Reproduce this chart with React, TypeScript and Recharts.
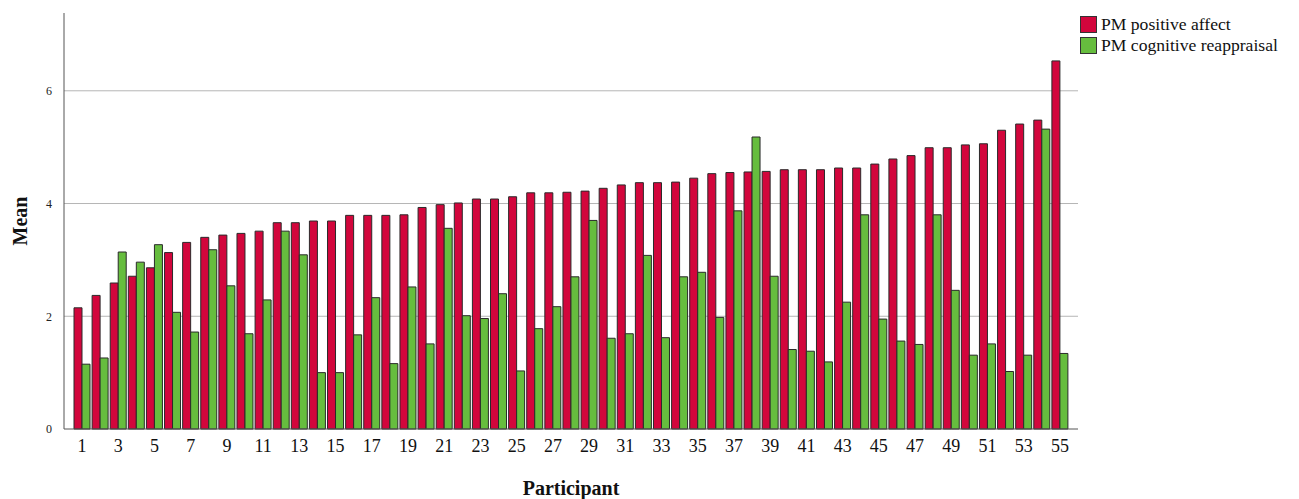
import React from "react";
import { BarChart, Bar, XAxis, YAxis, CartesianGrid, Label } from "recharts";

const participants = Array.from({ length: 55 }, (_, i) => String(i + 1));

const positiveAffect = [
  2.15, 2.37, 2.59, 2.71, 2.86, 3.13, 3.31, 3.4, 3.44, 3.47,
  3.51, 3.66, 3.66, 3.69, 3.69, 3.79, 3.79, 3.79, 3.8, 3.93,
  3.98, 4.01, 4.08, 4.08, 4.12, 4.19, 4.19, 4.2, 4.22, 4.27,
  4.33, 4.37, 4.37, 4.38, 4.45, 4.53, 4.55, 4.56, 4.57, 4.6,
  4.6, 4.6, 4.63, 4.63, 4.7, 4.79, 4.85, 4.99, 4.99, 5.04,
  5.06, 5.3, 5.41, 5.48, 6.53,
];

const cognitiveReappraisal = [
  1.15, 1.26, 3.14, 2.96, 3.27, 2.07, 1.72, 3.18, 2.54, 1.69,
  2.29, 3.51, 3.09, 1.0, 1.0, 1.67, 2.33, 1.16, 2.52, 1.51,
  3.56, 2.01, 1.96, 2.4, 1.03, 1.78, 2.17, 2.7, 3.7, 1.61,
  1.69, 3.08, 1.62, 2.7, 2.78, 1.98, 3.87, 5.18, 2.71, 1.41,
  1.38, 1.19, 2.25, 3.8, 1.95, 1.56, 1.5, 3.8, 2.46, 1.31,
  1.51, 1.02, 1.31, 5.32, 1.34,
];

const yTicks = [0, 2, 4, 6];

const seriesNames = ["PM positive affect", "PM cognitive reappraisal"];
const seriesColors = ["#d2063c", "#66bd3e"];

const data = participants.map((p, i) => ({
  participant: p,
  positive: positiveAffect[i],
  reappraisal: cognitiveReappraisal[i],
}));

const serif = "'Liberation Serif', 'Times New Roman', serif";

function LegendBox() {
  return (
    <div
      style={{
        position: "absolute",
        left: 1080,
        top: 14,
        fontFamily: serif,
        fontSize: 17.6,
        color: "#111",
        whiteSpace: "nowrap",
      }}
    >
      {seriesNames.map((name, i) => (
        <div key={name} style={{ display: "flex", alignItems: "center", height: 21 }}>
          <span
            style={{
              display: "inline-block",
              width: 15,
              height: 15,
              background: seriesColors[i],
              border: "1px solid #333",
              marginRight: 4,
            }}
          />
          <span>{name}</span>
        </div>
      ))}
    </div>
  );
}

export default function App() {
  return (
    <div style={{ position: "absolute", left: 0, top: 0, width: 1299, height: 499, background: "#fff" }}>
      <BarChart
        width={1299}
        height={499}
        data={data}
        margin={{ top: 13, right: 221, left: 14, bottom: 30 }}
        barCategoryGap={1}
        barGap={0}
      >
        <CartesianGrid
          horizontal
          vertical={false}
          horizontalValues={[2, 4, 6]}
          stroke="#b5b5b5"
          strokeWidth={1}
        />
        <XAxis
          dataKey="participant"
          interval={1}
          tickLine={false}
          axisLine={{ stroke: "#555" }}
          height={40}
          padding={{ left: 9, right: 9 }}
          tick={{ fontFamily: serif, fontSize: 18, fill: "#111" }}
          tickMargin={4}
        >
          <Label
            value="Participant"
            position="bottom"
            offset={12}
            style={{ fontFamily: serif, fontSize: 20, fontWeight: "bold", fill: "#111" }}
          />
        </XAxis>
        <YAxis
          width={50}
          domain={[0, 7.38]}
          ticks={yTicks}
          tickLine={false}
          axisLine={{ stroke: "#555" }}
          tick={{ fontFamily: serif, fontSize: 12, fill: "#222" }}
          tickMargin={6}
        >
          <Label
            value="Mean"
            angle={-90}
            position="insideLeft"
            offset={6}
            style={{ fontFamily: serif, fontSize: 20, fontWeight: "bold", fill: "#111", textAnchor: "middle" }}
          />
        </YAxis>
        <Bar
          dataKey="positive"
          name={seriesNames[0]}
          fill={seriesColors[0]}
          stroke="#2a2a2a"
          strokeWidth={1}
          isAnimationActive={false}
        />
        <Bar
          dataKey="reappraisal"
          name={seriesNames[1]}
          fill={seriesColors[1]}
          stroke="#2a2a2a"
          strokeWidth={1}
          isAnimationActive={false}
        />
      </BarChart>
      <LegendBox />
    </div>
  );
}
